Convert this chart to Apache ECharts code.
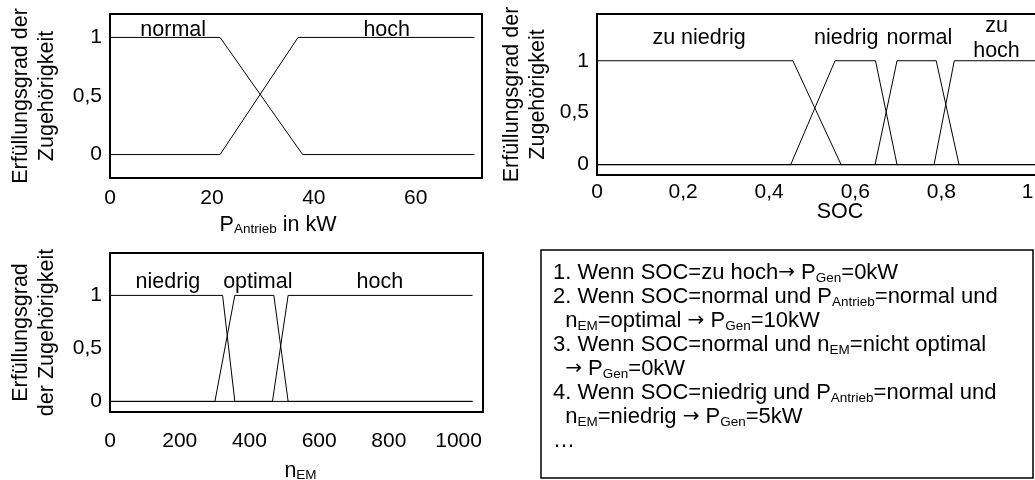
<!DOCTYPE html>
<html><head><meta charset="utf-8">
<script src="https://cdn.jsdelivr.net/npm/echarts@6/dist/echarts.min.js"></script>
<style>html,body{margin:0;padding:0;background:#fff}#c{width:1035px;height:480px}</style>
</head><body><div id="c"></div><script>
// ---- data ----
const yTicks = [0, 0.5, 1];
const pTicks = [0, 20, 40, 60];
const pNormal = [[0,1],[21.6,1],[37.8,0],[71.5,0]];
const pHoch   = [[0,0],[21.6,0],[36.9,1],[71.5,1]];

const socTicks = [0, 0.2, 0.4, 0.6, 0.8, 1];
const socZuNiedrig = [[0,1],[0.455,1],[0.567,0],[1.05,0]];
const socNiedrig   = [[0,0],[0.450,0],[0.553,1],[0.647,1],[0.697,0],[1.05,0]];
const socNormal    = [[0,0],[0.646,0],[0.697,1],[0.788,1],[0.841,0],[1.05,0]];
const socZuHoch    = [[0,0],[0.783,0],[0.830,1],[1.05,1]];

const nTicks = [0, 200, 400, 600, 800, 1000];
const nNiedrig = [[0,1],[323,1],[358,0],[1040,0]];
const nOptimal = [[0,0],[301,0],[358,1],[470,1],[511,0],[1040,0]];
const nHoch    = [[0,0],[466,0],[511,1],[1040,1]];

const ruleLines = [
  '1. Wenn SOC=zu hoch{a|\u2192} P{s|Gen}=0kW',
  '2. Wenn SOC=normal und P{s|Antrieb}=normal und',
  '  n{s|EM}=optimal {a|\u2192} P{s|Gen}=10kW',
  '3. Wenn SOC=normal und n{s|EM}=nicht optimal',
  '  {a|\u2192} P{s|Gen}=0kW',
  '4. Wenn SOC=niedrig und P{s|Antrieb}=normal und',
  '  n{s|EM}=niedrig {a|\u2192} P{s|Gen}=5kW',
  '\u2026'
];

// ---- chart ----
const FONT = "'Liberation Sans', Arial, sans-serif";
const FS = 21.5;   // names / category labels
const TFS = 21;    // tick labels
const BFS = 22;    // rule box
const fmt = v => String(+v.toFixed(2)).replace('.', ',');
const subRich = { s: { fontSize: 13.5, fontFamily: FONT, color: '#000', verticalAlign: 'bottom', lineHeight: 13 } };

function xAx(grid, max, ticks, name, gap, pad, margin) {
  return {
    type: 'value', gridIndex: grid, min: 0, max: max,
    axisLine: { show: false }, axisTick: { show: false }, splitLine: { show: false },
    axisLabel: { customValues: ticks, formatter: fmt, color: '#000', fontSize: TFS, fontFamily: FONT, margin: margin },
    name: name, nameLocation: 'middle', nameGap: gap, nameMoveOverlap: false,
    nameTextStyle: { color: '#000', fontSize: FS, fontFamily: FONT, padding: pad, rich: subRich }
  };
}
function yAx(grid, min, max, name, gap) {
  return {
    type: 'value', gridIndex: grid, min: min, max: max,
    axisLine: { show: false }, axisTick: { show: false }, splitLine: { show: false },
    axisLabel: { customValues: yTicks, formatter: fmt, color: '#000', fontSize: TFS, fontFamily: FONT, margin: 8 },
    name: name, nameLocation: 'middle', nameRotate: 90, nameGap: gap, nameMoveOverlap: false,
    nameTextStyle: { color: '#000', fontSize: FS, fontFamily: FONT, lineHeight: 26 }
  };
}
function ser(name, data, idx, labelCoord) {
  return {
    name: name, type: 'line', data: data, xAxisIndex: idx, yAxisIndex: idx,
    symbol: 'none', lineStyle: { color: '#000', width: 1 }, silent: true,
    markPoint: {
      symbol: 'circle', symbolSize: 0, silent: true,
      label: { show: true, position: 'inside', color: '#000', fontSize: FS, fontFamily: FONT, lineHeight: 25,
               formatter: () => name.replace(' ', labelCoord[2] ? '\n' : ' ') },
      data: [{ coord: [labelCoord[0], labelCoord[1]] }]
    }
  };
}

const chart = echarts.init(document.getElementById('c'), null, { renderer: 'canvas' });
const gridBase = { show: true, borderColor: '#000', borderWidth: 2, outerBoundsMode: 'none', containLabel: false };
chart.setOption({
  animation: false,
  backgroundColor: '#fff',
  grid: [
    Object.assign({ left: 110, top: 14, width: 372, height: 164 }, gridBase),
    Object.assign({ left: 597, top: 14, width: 452, height: 161 }, gridBase),
    Object.assign({ left: 110, top: 253, width: 373, height: 159 }, gridBase)
  ],
  xAxis: [
    xAx(0, 73, pTicks, 'P{s|Antrieb} in kW', 36, [0, 36, 0, 0], 10),
    xAx(1, 1.05, socTicks, 'SOC', 26, [0, 0, 0, 34], 7),
    xAx(2, 1070, nTicks, 'n{s|EM}', 48, [0, 0, 0, 8], 19)
  ],
  yAxis: [
    yAx(0, -0.2, 1.2, 'Erfüllungsgrad der\nZugehörigkeit', 50),
    yAx(1, -0.1, 1.45, 'Erfüllungsgrad der\nZugehörigkeit', 46),
    yAx(2, -0.1, 1.4, 'Erfüllungsgrad\nder Zugehörigkeit', 50)
  ],
  series: [
    ser('normal', pNormal, 0, [12.4, 1.065]),
    ser('hoch', pHoch, 0, [54.3, 1.065]),
    ser('zu niedrig', socZuNiedrig, 1, [0.237, 1.22]),
    ser('niedrig', socNiedrig, 1, [0.579, 1.22]),
    ser('normal', socNormal, 1, [0.749, 1.22]),
    ser('zu hoch', socZuHoch, 1, [0.928, 1.21, true]),
    ser('niedrig', nNiedrig, 2, [166, 1.13]),
    ser('optimal', nOptimal, 2, [424, 1.13]),
    ser('hoch', nHoch, 2, [774, 1.13])
  ],
  graphic: [
    { type: 'rect', shape: { x: 541, y: 250, width: 492, height: 228 },
      style: { fill: '#fff', stroke: '#000', lineWidth: 1.5 } },
    { type: 'text', left: 553, top: 261,
      style: { text: ruleLines.join('\n'), fill: '#000', fontSize: BFS, fontFamily: FONT, lineHeight: 24,
               rich: {
                 s: { fontSize: 13.5, fontFamily: FONT, fill: '#000', verticalAlign: 'bottom', lineHeight: 13 },
                 a: { fontSize: 20, fontFamily: "'DejaVu Sans', sans-serif", fill: '#000' }
               } } }
  ]
});
</script></body></html>
